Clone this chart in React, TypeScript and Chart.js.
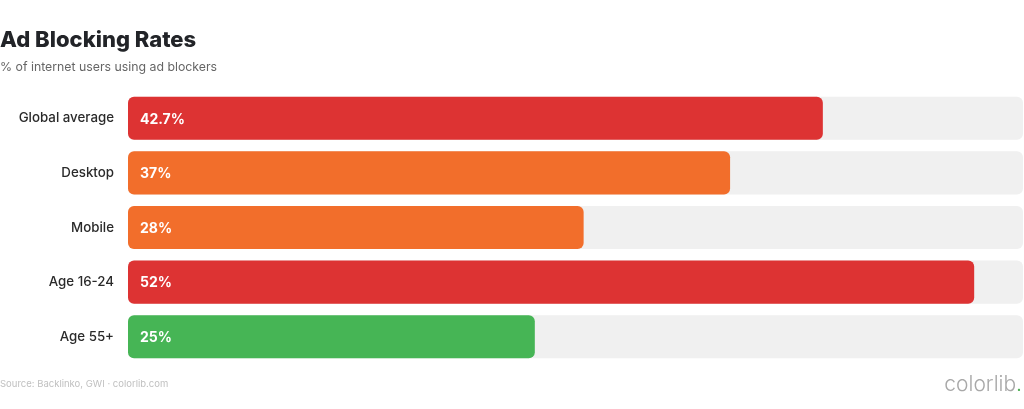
import React, { useEffect, useRef } from "react";
import { Chart, registerables } from "chart.js";

Chart.register(...registerables);

const categories = ["Global average", "Desktop", "Mobile", "Age 16-24", "Age 55+"];
const values = [42.7, 37, 28, 52, 25];
const valueLabels = ["42.7%", "37%", "28%", "52%", "25%"];
const barColors = ["#dd3333", "#f26e2b", "#f26e2b", "#dd3333", "#46b555"];
const axisMax = 55;
const trackValues = [55, 55, 55, 55, 55];

const FONT = "Inter, 'Liberation Sans', Arial, sans-serif";

export default function App() {
  const ref = useRef<HTMLCanvasElement | null>(null);

  useEffect(() => {
    const canvas = ref.current;
    if (!canvas) return;

    const textPlugin = {
      id: "texts",
      afterDatasetsDraw(chart: any) {
        const ctx = chart.ctx;
        const meta = chart.getDatasetMeta(1);
        ctx.save();
        ctx.fillStyle = "#ffffff";
        ctx.font = `bold 14px ${FONT}`;
        ctx.textBaseline = "middle";
        ctx.textAlign = "left";
        meta.data.forEach((bar: any, i: number) => {
          ctx.fillText(valueLabels[i], bar.base + 12, bar.y + 1);
        });
        ctx.restore();
      },
      afterDraw(chart: any) {
        const ctx = chart.ctx;
        ctx.save();
        ctx.textAlign = "left";
        ctx.textBaseline = "alphabetic";
        ctx.fillStyle = "#222428";
        ctx.font = `800 22px ${FONT}`;
        ctx.fillText("Ad Blocking Rates", 0, 47);
        ctx.fillStyle = "#666666";
        ctx.font = `12.3px ${FONT}`;
        ctx.fillText("% of internet users using ad blockers", 0, 71);
        ctx.fillStyle = "#c0c0c0";
        ctx.font = `9.5px ${FONT}`;
        ctx.fillText("Source: Backlinko, GWI \u00b7 colorlib.com", 0, 387);
        ctx.font = `300 21px ${FONT}`;
        ctx.textAlign = "right";
        ctx.fillStyle = "#4caf50";
        const dotW = ctx.measureText(".").width;
        ctx.fillText(".", 1022, 391);
        ctx.fillStyle = "#a8a8a8";
        ctx.fillText("colorlib", 1022 - dotW, 391);
        ctx.restore();
      },
    };

    const chart = new Chart(canvas, {
      type: "bar",
      data: {
        labels: categories,
        datasets: [
          {
            data: trackValues,
            backgroundColor: "#f0f0f0",
            borderRadius: 6,
            borderSkipped: false,
            grouped: false,
            barPercentage: 0.79,
            categoryPercentage: 1,
            order: 2,
          },
          {
            data: values,
            backgroundColor: barColors,
            borderRadius: 6,
            borderSkipped: false,
            grouped: false,
            barPercentage: 0.79,
            categoryPercentage: 1,
            order: 1,
          },
        ],
      },
      options: {
        indexAxis: "y",
        responsive: true,
        maintainAspectRatio: false,
        animation: false,
        layout: { padding: { top: 91, bottom: 45, left: 0, right: 1 } },
        plugins: {
          legend: { display: false },
          tooltip: { enabled: false },
          title: { display: false },
        },
        scales: {
          x: {
            display: false,
            min: 0,
            max: axisMax,
          },
          y: {
            grid: { display: false, drawTicks: false },
            border: { display: false },
            ticks: {
              color: "#2a2a2a",
              font: { family: FONT, size: 13.3, weight: "500" },
              padding: 14,
            },
            afterFit(scale: any) {
              scale.width = 128;
            },
          },
        },
      },
      plugins: [textPlugin],
    });

    return () => chart.destroy();
  }, []);

  return (
    <div style={{ position: "fixed", left: 0, top: 0, width: 1024, height: 409, background: "#fff" }}>
      <canvas ref={ref} />
    </div>
  );
}
